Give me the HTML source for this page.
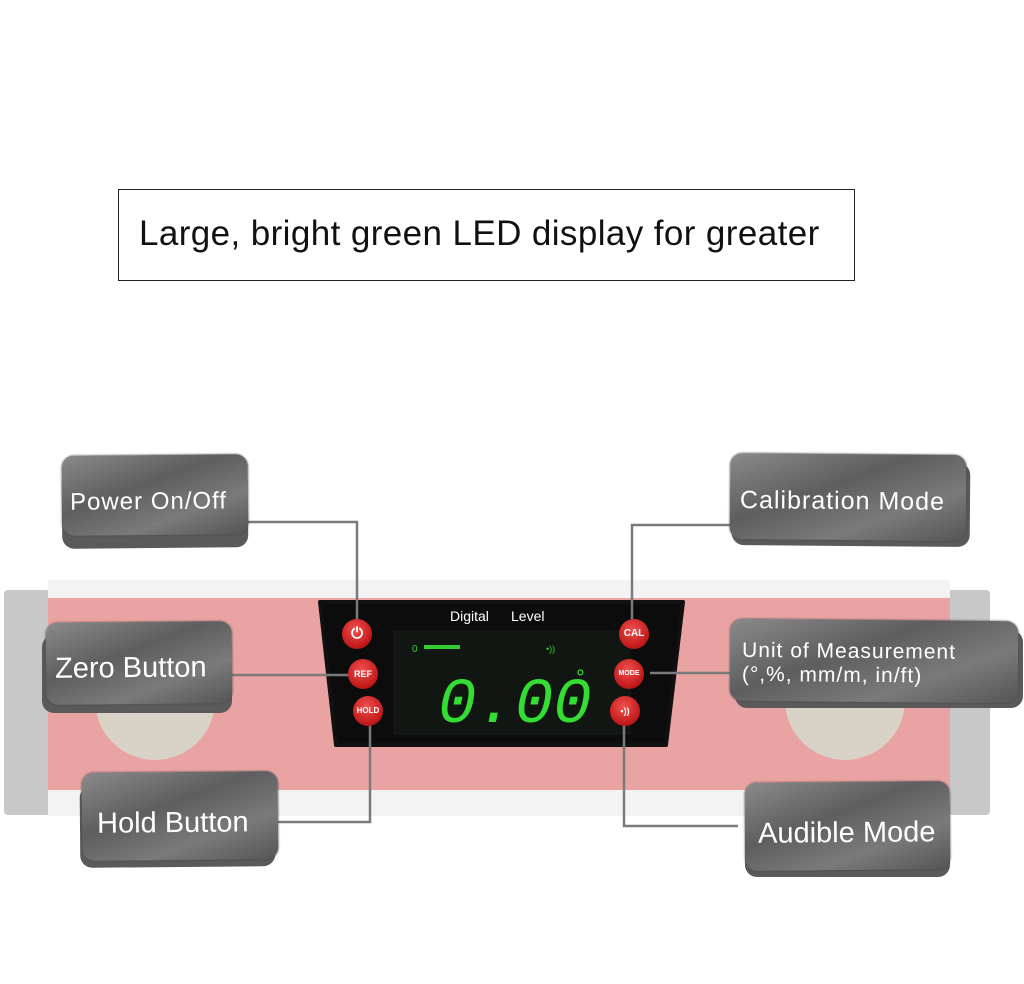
<!DOCTYPE html>
<html><head><style>
body{margin:0;width:1024px;height:984px;background:#fff;position:relative;overflow:hidden;font-family:"Liberation Sans",sans-serif}
.a{position:absolute}
.tag{position:absolute;border-radius:12px;background:linear-gradient(160deg,#8a8a8a,#5e5e5e 40%,#7a7a7a 70%,#555);color:#fff;box-shadow:0 0 2px #444}
.sh{position:absolute;border-radius:12px;background:#5a5a5a}
.tag span{position:absolute;white-space:nowrap}
.btn{position:absolute;width:30px;height:30px;border-radius:50%;background:radial-gradient(circle at 45% 35%,#f05050,#c01818 70%,#8a0d0d);color:#fff;font-weight:bold;font-size:9px;text-align:center;line-height:30px}
</style></head><body>
<div class="a" style="left:118px;top:189px;width:737px;height:92px;border:1.5px solid #222;box-sizing:border-box"></div>
<div class="a" style="left:139px;top:214px;font-size:35px;color:#111;letter-spacing:0.4px">Large, bright green LED display for greater</div>

<!-- level -->
<div class="a" style="left:4px;top:590px;width:46px;height:225px;background:#c8c8c8;border-radius:4px"></div>
<div class="a" style="left:948px;top:590px;width:42px;height:225px;background:#c8c8c8;border-radius:4px"></div>
<div class="a" style="left:48px;top:580px;width:902px;height:22px;background:#f3f3f3"></div>
<div class="a" style="left:48px;top:598px;width:902px;height:194px;background:#e9a3a3"></div>
<div class="a" style="left:48px;top:790px;width:902px;height:26px;background:#f3f3f3"></div>
<div class="a" style="left:95px;top:640px;width:120px;height:120px;border-radius:50%;background:#d9d2c6"></div>
<div class="a" style="left:785px;top:640px;width:120px;height:120px;border-radius:50%;background:#d9d2c6"></div>
<svg class="a" style="left:0;top:0" width="1024" height="984">
<path d="M320 602 L683 602 L666 745 L336 745 Z" fill="#0c0c0c" stroke="#111" stroke-width="4" stroke-linejoin="round"/>
<rect x="393" y="630" width="238" height="105" fill="#121612"/>
<text x="450" y="621" fill="#fff" font-size="14" font-family="Liberation Sans">Digital</text>
<text x="511" y="621" fill="#fff" font-size="14" font-family="Liberation Sans">Level</text>
<text x="412" y="652" fill="#3c3" font-size="10" font-family="Liberation Sans">0</text>
<rect x="424" y="645" width="36" height="4" fill="#3c3"/>
<text x="546" y="652" fill="#3c3" font-size="9" font-family="Liberation Sans">•))</text>
<text x="438" y="722" fill="#3d3" font-size="64" font-family="Liberation Mono" font-style="italic" letter-spacing="0">0.00</text>
<text x="576" y="685" fill="#3d3" font-size="22" font-family="Liberation Sans">°</text>
<g stroke="#7a7a7a" stroke-width="2.5" fill="none">
<path d="M248 522 H357 V626"/><path d="M232 675 H350"/><path d="M278 822 H370 V720"/>
<path d="M730 525 H632 V624"/><path d="M732 673 H650"/><path d="M738 826 H624 V720"/>
</g>
</svg>
<div class="btn" style="left:342px;top:619px;font-size:15px">⏻</div>
<div class="btn" style="left:348px;top:659px">REF</div>
<div class="btn" style="left:353px;top:696px;font-size:8px">HOLD</div>
<div class="btn" style="left:619px;top:619px;font-size:10px">CAL</div>
<div class="btn" style="left:614px;top:659px;font-size:7px">MODE</div>
<div class="btn" style="left:610px;top:696px">•))</div>

<div class="sh" style="left:62px;top:470px;width:186px;height:78px;transform:rotate(-0.5deg)"></div>
<div class="tag" style="left:62px;top:455px;width:186px;height:80px;transform:rotate(-0.5deg)"><span style="left:8px;top:33px;font-size:24px;letter-spacing:1px">Power On/Off</span></div>
<div class="sh" style="left:42px;top:635px;width:190px;height:78px"></div>
<div class="tag" style="left:46px;top:622px;width:186px;height:82px;transform:rotate(-0.5deg)"><span style="left:9px;top:30px;font-size:29px">Zero Button</span></div>
<div class="sh" style="left:80px;top:785px;width:195px;height:82px;transform:rotate(-0.5deg)"></div>
<div class="tag" style="left:82px;top:772px;width:196px;height:88px;transform:rotate(-0.5deg)"><span style="left:15px;top:35px;font-size:29px">Hold Button</span></div>

<div class="sh" style="left:732px;top:462px;width:238px;height:84px;transform:rotate(0.5deg)"></div>
<div class="tag" style="left:730px;top:454px;width:236px;height:86px;transform:rotate(0.5deg)"><span style="left:10px;top:33px;font-size:25px;letter-spacing:1px">Calibration Mode</span></div>
<div class="sh" style="left:735px;top:630px;width:288px;height:78px"></div>
<div class="tag" style="left:730px;top:620px;width:288px;height:82px;transform:rotate(0.5deg)"><span style="left:12px;top:20px;font-size:21px;line-height:24px;letter-spacing:1px">Unit of Measurement<br>(°,%, mm/m, in/ft)</span></div>
<div class="sh" style="left:745px;top:795px;width:205px;height:82px"></div>
<div class="tag" style="left:745px;top:782px;width:205px;height:88px;transform:rotate(-0.5deg)"><span style="left:13px;top:35px;font-size:29px">Audible Mode</span></div>
</body></html>
